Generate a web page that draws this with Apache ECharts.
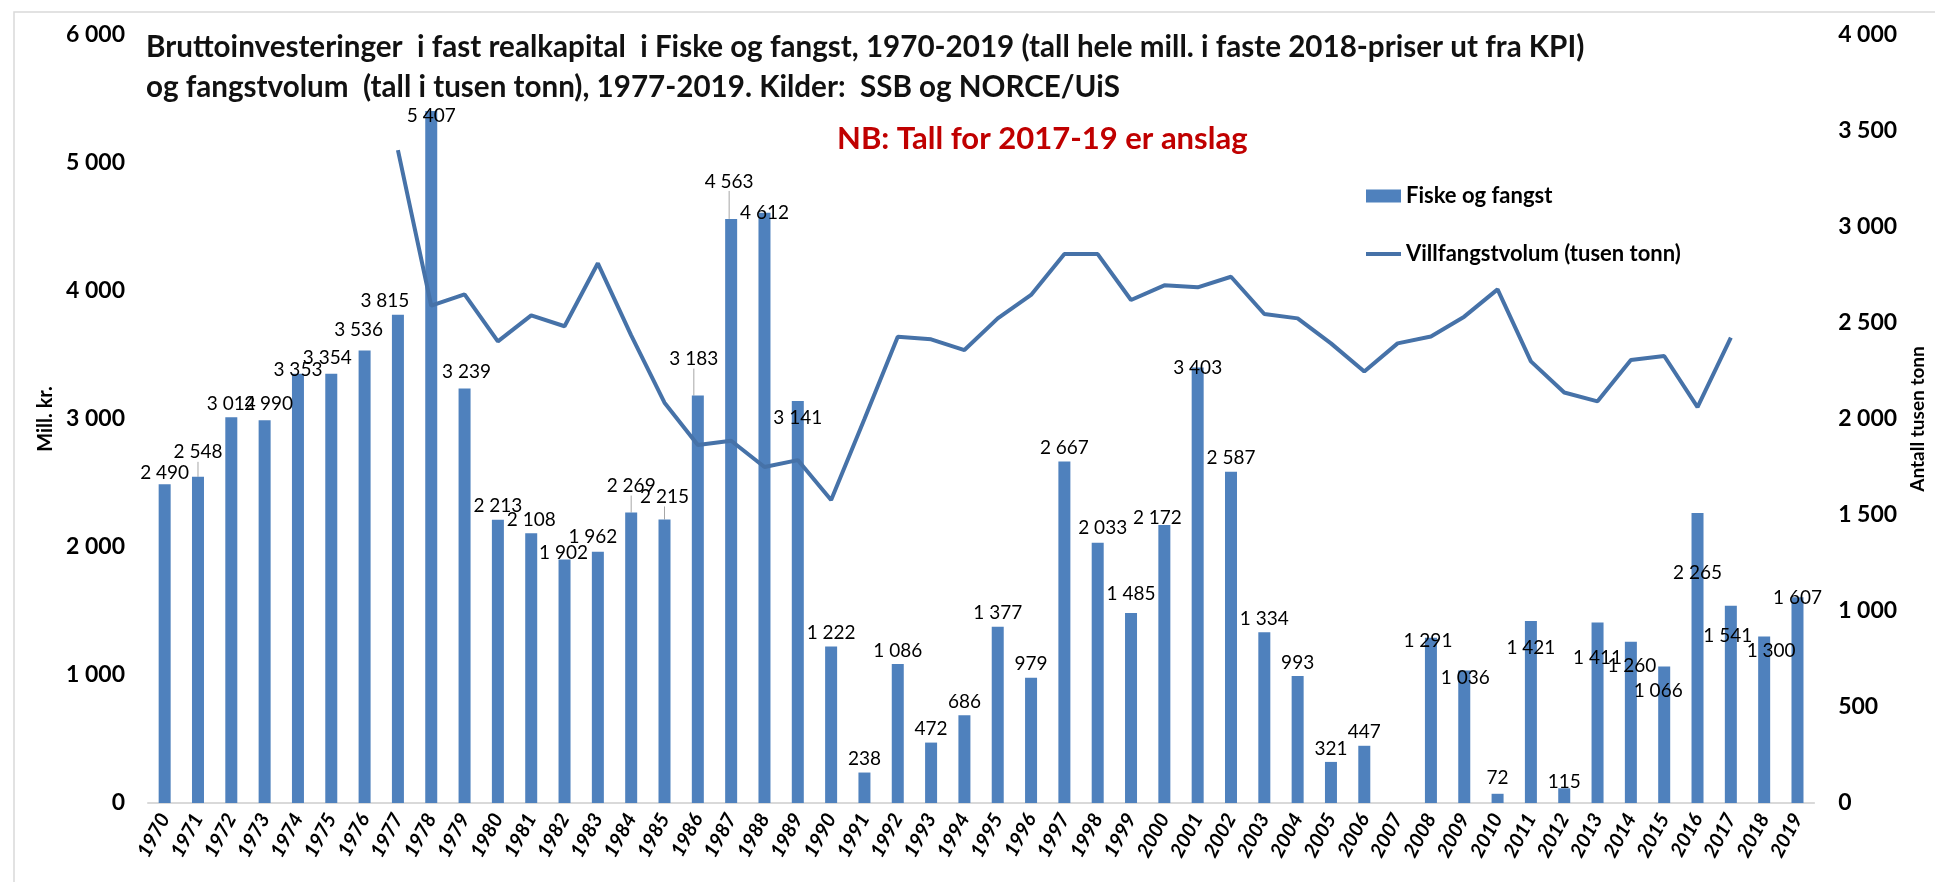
<!DOCTYPE html>
<html>
<head>
<meta charset="utf-8">
<script src="https://cdn.jsdelivr.net/npm/echarts@6/dist/echarts.min.js"></script>
<style>
  html, body { margin: 0; padding: 0; background: #fff; }
  #main { width: 1935px; height: 882px; }
</style>
</head>
<body>
<div id="main"></div>
<script>
// år 1970-2019
var years = ['1970','1971','1972','1973','1974','1975','1976','1977','1978','1979',
  '1980','1981','1982','1983','1984','1985','1986','1987','1988','1989',
  '1990','1991','1992','1993','1994','1995','1996','1997','1998','1999',
  '2000','2001','2002','2003','2004','2005','2006','2007','2008','2009',
  '2010','2011','2012','2013','2014','2015','2016','2017','2018','2019'];

// bruttoinvesteringer, mill. kr (venstre akse)
var investering = [2490, 2548, 3014, 2990, 3353, 3354, 3536, 3815, 5407, 3239,
  2213, 2108, 1902, 1962, 2269, 2215, 3183, 4563, 4612, 3141,
  1222, 238, 1086, 472, 686, 1377, 979, 2667, 2033, 1485,
  2172, 3403, 2587, 1334, 993, 321, 447, null, 1291, 1036,
  72, 1421, 115, 1411, 1260, 1066, 2265, 1541, 1300, 1607];

// villfangstvolum, tusen tonn (høyre akse), 1977-2017
var fangst = [null, null, null, null, null, null, null, 3400, 2590, 2649,
  2404, 2540, 2483, 2811, 2436, 2085, 1865, 1887, 1750, 1786,
  1578, 2000, 2429, 2415, 2359, 2524, 2646, 2859, 2859, 2620,
  2696, 2686, 2741, 2547, 2524, 2394, 2247, 2394, 2430, 2533,
  2675, 2300, 2138, 2092, 2307, 2328, 2062, 2424, null, null];

// etikettene står ikke alltid rett over søylen i originalen (px-forskyvning)
var labelShift = {
  '1970': [0, 2], '1971': [0, -11], '1973': [4, -3], '1974': [0, 10], '1975': [-4, -2],
  '1976': [-6, -7], '1977': [-13, 0], '1978': [0, 18], '1979': [2, -3], '1982': [-1, 7],
  '1983': [-5, -1], '1984': [0, -13], '1985': [0, -9], '1986': [-4, -23], '1987': [-2, -24],
  '1988': [0, 14], '1989': [0, 30], '1998': [5, -1], '1999': [0, -6], '2000': [-7, 6],
  '2001': [0, 14], '2008': [-3, 17], '2009': [1, 21], '2010': [0, -2], '2011': [0, 40],
  '2012': [0, 7], '2013': [0, 49], '2014': [1, 38], '2015': [-6, 38], '2016': [0, 73],
  '2017': [-3, 44], '2018': [7, 28], '2019': [0, 14]
};
var leaderYears = ['1971', '1984', '1985', '1986', '1987'];

var tittel = 'Bruttoinvesteringer  i fast realkapital  i Fiske og fangst, 1970-2019 (tall hele mill. i faste 2018-priser ut fra KPI)\n' +
  'og fangstvolum  (tall i tusen tonn), 1977-2019. Kilder:  SSB og NORCE/UiS';

function tusen(v) {
  return String(v).replace(/\B(?=(\d{3})+(?!\d))/g, ' ');
}

var font = 'Lato, "Open Sans", sans-serif';

var barData = investering.map(function (v, i) {
  var item = { value: v };
  if (leaderYears.indexOf(years[i]) >= 0) {
    item.labelLine = { show: true, lineStyle: { color: '#a6a6a6', width: 1 } };
  }
  return item;
});

var myChart = echarts.init(document.getElementById('main'));
var option = {
  backgroundColor: '#fff',
  animation: false,
  textStyle: { fontFamily: font },
  title: [{
    text: tittel,
    left: 141,
    top: 22,
    textStyle: { fontSize: 29.6, fontWeight: 'bold', color: '#111', lineHeight: 40, fontFamily: font }
  }, {
    text: 'NB: Tall for 2017-19 er anslag',
    left: 832,
    top: 118,
    textStyle: { fontSize: 31, fontWeight: 'bold', color: '#c00000', fontFamily: font }
  }],
  graphic: [{
    type: 'rect',
    shape: { x: 14, y: 12, width: 2000, height: 1000 },
    style: { fill: 'none', stroke: '#d9d9d9', lineWidth: 1.5 },
    silent: true
  }],
  legend: {
    orient: 'vertical',
    left: 1361,
    top: 180,
    itemWidth: 35,
    itemHeight: 13,
    itemGap: 36,
    textStyle: { fontSize: 22, fontWeight: 'bold', color: '#000', fontFamily: font },
    data: [
      { name: 'Fiske og fangst', icon: 'rect' },
      { name: 'Villfangstvolum (tusen tonn)', icon: 'path://M0,0 L35,0 L35,4 L0,4 Z' }
    ]
  },
  grid: { left: 148, right: 109, top: 35, bottom: 79 },
  xAxis: {
    type: 'category',
    data: years,
    axisLine: { lineStyle: { color: '#d9d9d9', width: 2 } },
    axisTick: { show: false },
    axisLabel: {
      interval: 0,
      rotate: 62,
      margin: 12,
      fontSize: 20,
      fontWeight: 'bold',
      fontStyle: 'italic',
      color: '#000',
      fontFamily: font
    }
  },
  yAxis: [{
    type: 'value',
    min: 0,
    max: 6000,
    interval: 1000,
    name: 'Mill. kr.',
    nameLocation: 'middle',
    nameRotate: 90,
    nameGap: 86,
    nameTextStyle: { fontSize: 20, fontWeight: 'bold', color: '#000', fontFamily: font },
    splitLine: { show: false },
    axisLine: { show: false },
    axisTick: { show: false },
    axisLabel: { margin: 23, fontSize: 23, fontWeight: 'bold', color: '#000', fontFamily: font, formatter: tusen }
  }, {
    type: 'value',
    min: 0,
    max: 4000,
    interval: 500,
    position: 'right',
    name: 'Antall tusen tonn',
    nameLocation: 'middle',
    nameRotate: 90,
    nameGap: 88,
    nameTextStyle: { fontSize: 19, fontWeight: 'bold', color: '#000', fontFamily: font },
    splitLine: { show: false },
    axisLine: { show: false },
    axisTick: { show: false },
    axisLabel: { margin: 24, fontSize: 23, fontWeight: 'bold', color: '#000', fontFamily: font, formatter: tusen }
  }],
  series: [{
    name: 'Fiske og fangst',
    type: 'bar',
    barWidth: 12,
    yAxisIndex: 0,
    itemStyle: { color: '#4f81bd' },
    label: {
      show: true,
      position: 'top',
      distance: 4,
      fontSize: 19,
      color: '#000',
      fontFamily: font,
      formatter: function (p) { return tusen(p.value); }
    },
    labelLine: { show: false },
    labelLayout: function (p) {
      var s = labelShift[years[p.dataIndex]];
      return s ? { dx: s[0], dy: s[1] } : {};
    },
    data: barData
  }, {
    name: 'Villfangstvolum (tusen tonn)',
    type: 'line',
    yAxisIndex: 1,
    symbol: 'none',
    connectNulls: false,
    lineStyle: { color: '#4672a8', width: 4 },
    itemStyle: { color: '#4672a8' },
    data: fangst
  }]
};
myChart.setOption(option);
</script>
</body>
</html>
